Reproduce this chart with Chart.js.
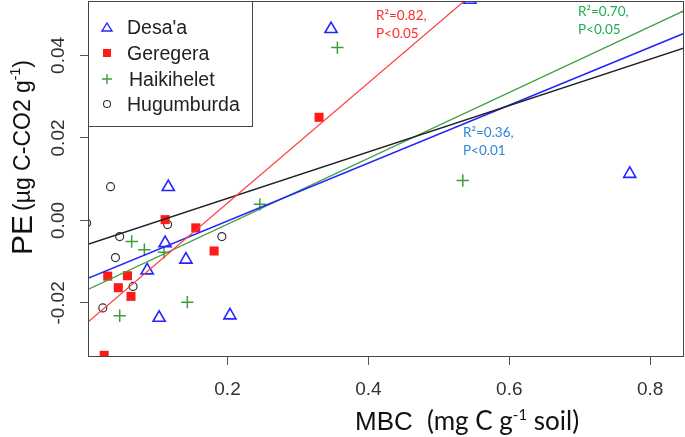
<!DOCTYPE html>
<html>
<head>
<meta charset="utf-8">
<script src="https://cdn.jsdelivr.net/npm/chart.js@4.4.0/dist/chart.umd.min.js"></script>
<style>
  body { margin: 0; background: #fff; }
  #wrap { width: 685px; height: 437px; }
</style>
</head>
<body>
<div id="wrap"><canvas id="myChart" width="685" height="437"></canvas></div>
<script>
// sites (legend order)
const sites = ["Desa'a", 'Geregera', 'Haikihelet', 'Hugumburda'];

// MBC (x) and PE (y) per site
const desaX = [0.116, 0.1115, 0.141, 0.086, 0.103, 0.2035, 0.347, 0.544, 0.771];
const desaY = [0.0081, -0.0055, -0.0095, -0.0121, -0.0236, -0.0230, 0.0464, 0.0535, 0.0113];

const geregeraX = [0.1115, 0.155, 0.181, 0.030, 0.058, 0.045, 0.063, 0.025, 0.330];
const geregeraY = [0.0002, -0.0018, -0.0074, -0.0135, -0.0134, -0.0163, -0.0184, -0.0327, 0.0250];

const haikiX = [0.064, 0.082, 0.110, 0.143, 0.047, 0.246, 0.356, 0.534, 0.853];
const haikiY = [-0.0051, -0.0071, -0.0077, -0.0198, -0.0231, 0.0039, 0.0419, 0.0097, 0.0506];

const hugX = [0.034, 0.0, 0.115, 0.047, 0.041, 0.066, 0.023, 0.192];
const hugY = [0.0082, -0.0006, -0.0010, -0.0039, -0.0090, -0.0160, -0.0212, -0.0039];

// fitted lines, end points
const fitX = [0.002, 0.85];
const fitDesaY = [-0.0140, 0.0455];
const fitGeregeraY = [-0.0246, 0.0989];
const fitHaikiY = [-0.0167, 0.0510];
const fitHugY = [-0.0058, 0.0419];

// ticks
const xTicks = [0.2, 0.4, 0.6, 0.8];
const yTicks = [-0.02, 0.00, 0.02, 0.04];

// fit stats
const fitNotes = [
    { lines: ['R\u00B2=0.82,', 'P<0.05'], color: '#ff2a2a', x: 376, y: 20 },
    { lines: ['R\u00B2=0.70,', 'P<0.05'], color: '#1fae50', x: 578, y: 16 },
    { lines: ['R\u00B2=0.36,', 'P<0.01'], color: '#2f86d6', x: 463, y: 137 }
];

function toPoints(xs, ys) {
    return xs.map(function (x, i) { return { x: x, y: ys[i] }; });
}

const BLUE = '#2424ff';
const RED = '#ff1a1a';
const GREEN = '#3c9f3c';
const BLACK = '#333333';

function fitLine(ys, color, width) {
    return {
        data: toPoints(fitX, ys),
        showLine: true,
        borderColor: color,
        borderWidth: width,
        pointRadius: 0,
        clip: 0,
        order: 0
    };
}

const decorations = {
    id: 'decorations',
    afterDraw(chart) {
        const ctx = chart.ctx;
        const area = chart.chartArea;
        const xs = chart.scales.x;
        const ys = chart.scales.y;
        ctx.save();

        // frame
        ctx.strokeStyle = '#444';
        ctx.lineWidth = 1;
        ctx.strokeRect(area.left + 0.5, area.top + 0.5, area.right - area.left - 1, area.bottom - area.top - 1);

        // tick labels
        ctx.fillStyle = '#333';
        ctx.font = '19px "Liberation Sans", Arial, sans-serif';
        ctx.textAlign = 'center';
        ctx.textBaseline = 'alphabetic';
        xTicks.forEach(function (v) {
            ctx.fillText(v.toFixed(1), xs.getPixelForValue(v), 395);
        });
        yTicks.forEach(function (v) {
            ctx.save();
            ctx.translate(64, ys.getPixelForValue(v));
            ctx.rotate(-Math.PI / 2);
            ctx.fillText(v.toFixed(2), 0, 0);
            ctx.restore();
        });

        // x title
        ctx.textAlign = 'left';
        ctx.fillStyle = '#111';
        let tx = 355;
        ctx.font = '26px "Liberation Sans", Arial, sans-serif';
        ctx.fillText('MBC', tx, 430);
        tx = 427;
        ctx.font = '26px Lato, sans-serif';
        ctx.fillText('(mg C g', tx, 430);
        tx += ctx.measureText('(mg C g').width;
        ctx.font = '15px Lato, sans-serif';
        ctx.fillText('-1', tx, 420);
        tx += ctx.measureText('-1').width;
        ctx.font = '26px Lato, sans-serif';
        ctx.fillText(' soil)', tx, 430);

        // y title (rotated)
        ctx.save();
        ctx.rotate(-Math.PI / 2);
        let ty = -255;
        ctx.font = '30px "Liberation Sans", Arial, sans-serif';
        ctx.fillText('PE', ty, 32);
        ty += ctx.measureText('PE').width + 4;
        ctx.font = '23px "Liberation Sans", Arial, sans-serif';
        ctx.fillText('(\u00B5g C-CO2 g', ty, 30);
        ty += ctx.measureText('(\u00B5g C-CO2 g').width;
        ctx.font = '14px "Liberation Sans", Arial, sans-serif';
        ctx.fillText('-1', ty, 20);
        ty += ctx.measureText('-1').width;
        ctx.font = '23px "Liberation Sans", Arial, sans-serif';
        ctx.fillText(')', ty, 30);
        ctx.restore();

        // fit notes
        ctx.font = '13.5px Lato, sans-serif';
        fitNotes.forEach(function (n) {
            ctx.fillStyle = n.color;
            n.lines.forEach(function (s, i) {
                ctx.fillText(s, n.x, n.y + i * 18);
            });
        });

        // legend box
        ctx.fillStyle = '#fff';
        ctx.fillRect(88, 1, 164, 125);
        ctx.strokeStyle = '#444';
        ctx.strokeRect(88.5, 1.5, 164, 125);

        const rows = [34, 60, 86, 111];
        const sx = 107;
        ctx.lineWidth = 1.4;
        // triangle
        ctx.strokeStyle = BLUE;
        ctx.beginPath();
        ctx.moveTo(sx, 23);
        ctx.lineTo(sx + 5, 31);
        ctx.lineTo(sx - 5, 31);
        ctx.closePath();
        ctx.stroke();
        // square
        ctx.fillStyle = RED;
        ctx.fillRect(sx - 4, 49, 8, 8);
        // plus
        ctx.strokeStyle = GREEN;
        ctx.beginPath();
        ctx.moveTo(sx - 5, 79); ctx.lineTo(sx + 5, 79);
        ctx.moveTo(sx, 74); ctx.lineTo(sx, 84);
        ctx.stroke();
        // circle
        ctx.strokeStyle = BLACK;
        ctx.lineWidth = 1.1;
        ctx.beginPath();
        ctx.arc(sx, 104, 3.5, 0, Math.PI * 2);
        ctx.stroke();

        ctx.fillStyle = '#222';
        ctx.font = '19.5px "Liberation Sans", Arial, sans-serif';
        sites.forEach(function (s, i) {
            ctx.fillText(s, i === 2 ? 129 : 127, rows[i]);
        });

        ctx.restore();
    }
};

const ctx = document.getElementById('myChart');
const myChart = new Chart(ctx, {
    type: 'scatter',
    data: {
        datasets: [
            fitLine(fitGeregeraY, '#ff3b3b', 1.2),
            fitLine(fitHugY, '#222', 1.5),
            fitLine(fitDesaY, BLUE, 1.5),
            fitLine(fitHaikiY, '#3f9f3f', 1.2),
            {
                label: sites[0],
                data: toPoints(desaX, desaY),
                pointStyle: 'triangle',
                pointRadius: 7,
                backgroundColor: 'rgba(0,0,0,0)',
                borderColor: BLUE,
                borderWidth: 1.6,
                clip: 0,
                order: 1
            },
            {
                label: sites[1],
                data: toPoints(geregeraX, geregeraY),
                pointStyle: 'rect',
                pointRadius: 6.4,
                backgroundColor: RED,
                borderColor: RED,
                borderWidth: 0,
                clip: 0,
                order: 1
            },
            {
                label: sites[2],
                data: toPoints(haikiX, haikiY),
                pointStyle: 'cross',
                pointRadius: 6.2,
                borderColor: GREEN,
                borderWidth: 1.5,
                clip: 0,
                order: 1
            },
            {
                label: sites[3],
                data: toPoints(hugX, hugY),
                pointStyle: 'circle',
                pointRadius: 4,
                backgroundColor: 'rgba(0,0,0,0)',
                borderColor: BLACK,
                borderWidth: 1.2,
                clip: 0,
                order: 1
            }
        ]
    },
    options: {
        responsive: false,
        animation: false,
        events: [],
        layout: { autoPadding: false, padding: { top: 1, right: 1, left: 0, bottom: 0 } },
        plugins: { legend: { display: false }, tooltip: { enabled: false } },
        scales: {
            x: {
                type: 'linear',
                min: 0.002,
                max: 0.848,
                afterBuildTicks: function (scale) {
                    scale.ticks = xTicks.map(function (v) { return { value: v }; });
                },
                afterFit: function (scale) { scale.height = 80; },
                ticks: { display: false },
                border: { display: false },
                grid: { drawOnChartArea: false, drawTicks: true, tickLength: 8, color: '#555', lineWidth: 1 }
            },
            y: {
                type: 'linear',
                min: -0.0331,
                max: 0.0532,
                afterBuildTicks: function (scale) {
                    scale.ticks = yTicks.map(function (v) { return { value: v }; });
                },
                afterFit: function (scale) { scale.width = 88; },
                ticks: { display: false },
                border: { display: false },
                grid: { drawOnChartArea: false, drawTicks: true, tickLength: 8, color: '#555', lineWidth: 1 }
            }
        }
    },
    plugins: [decorations]
});
</script>
</body>
</html>
